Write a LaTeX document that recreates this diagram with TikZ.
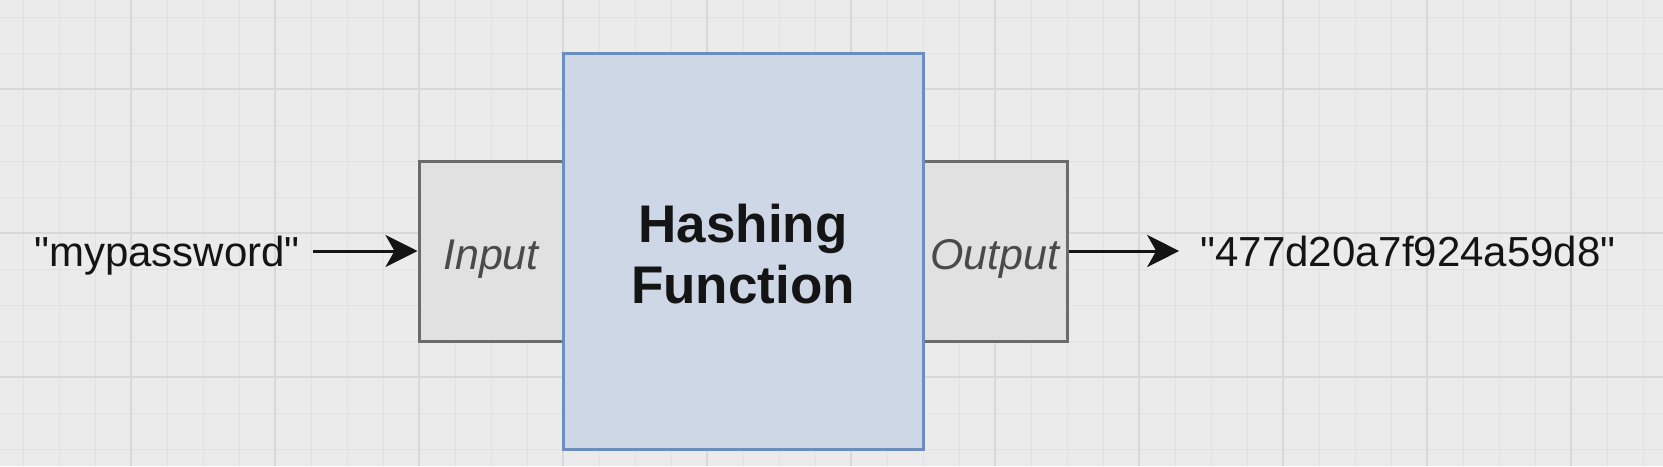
\documentclass[tikz,border=0pt]{standalone}
\usepackage{fontspec}
\setmainfont{Liberation Sans}
\usetikzlibrary{arrows.meta}
\definecolor{bgc}{HTML}{EBEBEB}
\definecolor{minorc}{HTML}{E1E1E1}
\definecolor{majorc}{HTML}{D8D8D8}
\definecolor{grayfill}{HTML}{E1E1E1}
\definecolor{grayline}{HTML}{6B6B6B}
\definecolor{bluefill}{HTML}{CDD7E6}
\definecolor{blueline}{HTML}{6C8EBF}
\definecolor{txtgray}{HTML}{4A4A4A}
\newcommand{\dq}{\XeTeXglyph\XeTeXcharglyph"22\relax}
\tikzset{
  minorline/.style={draw=minorc, line width=1pt},
  majorline/.style={draw=majorc, line width=1.4pt},
  graybox/.style={draw=grayline, fill=grayfill, line width=3pt, inner sep=0pt,
    minimum width=144pt, minimum height=180pt, text height=36pt, text depth=0pt,
    font=\fontsize{43}{50}\selectfont\itshape, text=txtgray},
  hashbox/.style={draw=blueline, fill=bluefill, line width=3pt, inner sep=0pt,
    minimum width=360pt, minimum height=396pt, align=center,
    font=\fontsize{53}{62}\selectfont\bfseries, text=black!92},
  plain/.style={inner sep=10pt, text height=31pt, text depth=0pt,
    font=\fontsize{42}{50}\selectfont, text=black!92},
  flow/.style={line width=3pt, draw=black!92, -{Stealth[length=32pt, width=32pt, inset=9pt]}}
}
\begin{document}
\begin{tikzpicture}[x=1pt,y=-1pt]
\fill[bgc] (0,0) rectangle (1663,466);
\useasboundingbox (0,0) rectangle (1663,466);
\foreach \x in {23,59,...,1663} \draw[minorline] (\x,0) -- (\x,466);
\foreach \y in {17,53,...,466} \draw[minorline] (0,\y) -- (1663,\y);
\foreach \x in {131,275,...,1663} \draw[majorline] (\x,0) -- (\x,466);
\foreach \y in {89,233,377} \draw[majorline] (0,\y) -- (1663,\y);

\node[graybox] (inp) at (491,251) {Input};
\node[graybox] (outp) at (995,251) {Output};
\node[hashbox] (hash) at (743,251) {\raisebox{-16pt}[0pt][0pt]{\begin{tabular}{@{}c@{}}Hashing\\[-1pt]Function\end{tabular}}};

\node[plain] (pw) at (167,251) {\dq mypassword\dq};
\node[plain] (hv) at (1408,251) {\dq 477d20a7f924a59d8\dq};

\draw[flow, shorten <=3pt] (pw.east) -- (inp.west);
\draw[flow, shorten >=11pt] (outp.east) -- (hv.west);
\end{tikzpicture}
\end{document}
